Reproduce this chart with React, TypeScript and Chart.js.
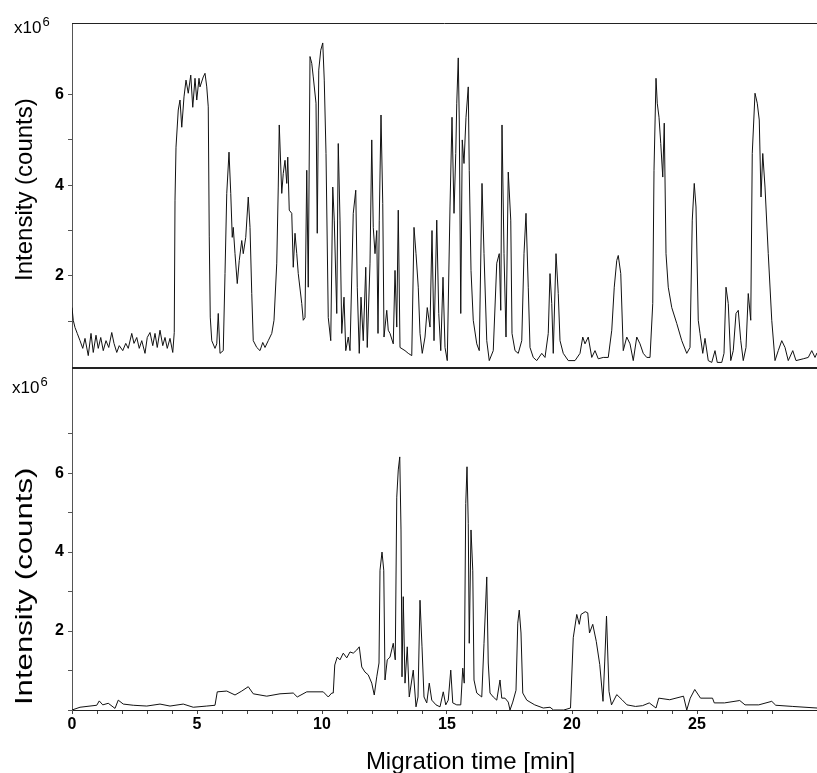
import React, { useEffect, useRef } from 'react';
import { Chart, registerables } from 'chart.js';
Chart.register(...registerables);

// Upper electropherogram (migration time in min, intensity in 10^6 counts)
const topTime = [
  0.0, 0.05, 0.12, 0.21, 0.32, 0.43, 0.52, 0.65, 0.76, 0.85, 0.96, 1.05, 1.15, 1.25, 1.36, 1.47, 1.59, 1.68, 1.79, 1.89,
  2.03, 2.15, 2.25, 2.39, 2.48, 2.59, 2.69, 2.79, 2.92, 3.01, 3.12, 3.23, 3.32, 3.41, 3.52, 3.63, 3.72, 3.81, 3.92, 4.03,
  4.09, 4.12, 4.16, 4.25, 4.32, 4.39, 4.48, 4.56, 4.65, 4.75, 4.83, 4.92, 4.99, 5.08, 5.12, 5.25, 5.32, 5.39, 5.45, 5.49,
  5.53, 5.59, 5.72, 5.79, 5.85, 5.92, 6.05, 6.12, 6.19, 6.28, 6.35, 6.41, 6.45, 6.52, 6.61, 6.69, 6.79, 6.85, 6.95, 7.05,
  7.12, 7.19, 7.25, 7.39, 7.52, 7.63, 7.72, 7.85, 7.99, 8.08, 8.19, 8.25, 8.29, 8.39, 8.45, 8.52, 8.59, 8.63, 8.69, 8.79,
  8.85, 8.92, 8.99, 9.05, 9.19, 9.25, 9.32, 9.39, 9.45, 9.52, 9.59, 9.65, 9.76, 9.81, 9.87, 9.95, 10.03, 10.09, 10.16, 10.25,
  10.35, 10.43, 10.49, 10.59, 10.65, 10.72, 10.79, 10.88, 10.95, 11.05, 11.12, 11.25, 11.35, 11.41, 11.49, 11.56, 11.65, 11.75, 11.81, 11.92,
  11.99, 12.05, 12.12, 12.19, 12.24, 12.29, 12.36, 12.43, 12.48, 12.59, 12.65, 12.72, 12.85, 12.92, 12.99, 13.05, 13.12, 13.32, 13.45, 13.59,
  13.68, 13.76, 13.85, 13.92, 14.01, 14.12, 14.21, 14.32, 14.4, 14.48, 14.59, 14.67, 14.75, 14.84, 14.92, 15.01, 15.12, 15.2, 15.28, 15.35,
  15.39, 15.45, 15.49, 15.55, 15.61, 15.68, 15.76, 15.85, 15.89, 15.96, 16.05, 16.19, 16.29, 16.4, 16.48, 16.59, 16.69, 16.85, 16.99, 17.09,
  17.15, 17.2, 17.28, 17.36, 17.45, 17.55, 17.6, 17.72, 17.85, 17.99, 18.08, 18.16, 18.25, 18.32, 18.45, 18.59, 18.79, 18.92, 19.05, 19.12,
  19.19, 19.25, 19.36, 19.45, 19.52, 19.65, 19.85, 20.12, 20.32, 20.43, 20.52, 20.65, 20.79, 20.92, 21.05, 21.25, 21.45, 21.59, 21.69, 21.79,
  21.85, 21.95, 22.05, 22.19, 22.32, 22.45, 22.59, 22.72, 22.85, 22.99, 23.12, 23.23, 23.28, 23.36, 23.41, 23.48, 23.55, 23.63, 23.69, 23.76,
  23.85, 23.99, 24.19, 24.39, 24.59, 24.72, 24.81, 24.89, 24.96, 25.05, 25.12, 25.23, 25.32, 25.45, 25.59, 25.72, 25.81, 25.99, 26.08, 26.16,
  26.25, 26.35, 26.45, 26.56, 26.65, 26.75, 26.85, 26.96, 27.05, 27.15, 27.21, 27.32, 27.41, 27.49, 27.56, 27.63, 27.72, 27.85, 27.99, 28.12,
  28.25, 28.39, 28.52, 28.65, 28.83, 28.96, 29.25, 29.45, 29.59, 29.72, 29.8,
];
const topIntensity = [
  1.3, 1.02, 0.86, 0.73, 0.57, 0.4, 0.62, 0.24, 0.73, 0.31, 0.69, 0.4, 0.64, 0.35, 0.57, 0.42, 0.75, 0.51, 0.31, 0.46,
  0.35, 0.51, 0.4, 0.73, 0.51, 0.64, 0.4, 0.57, 0.29, 0.64, 0.75, 0.46, 0.73, 0.42, 0.8, 0.46, 0.64, 0.4, 0.62, 0.31,
  0.75, 3.67, 4.84, 5.66, 5.88, 5.28, 5.95, 6.32, 6.03, 6.43, 5.72, 6.36, 5.88, 6.36, 6.17, 6.39, 6.47, 6.17, 5.73, 2.86,
  1.09, 0.57, 0.4, 0.5, 1.17, 0.29, 0.35, 2.05, 3.82, 4.73, 3.82, 2.85, 3.07, 2.49, 1.83, 2.34, 2.78, 2.49, 2.85, 3.74,
  3.07, 1.61, 0.57, 0.42, 0.35, 0.53, 0.42, 0.57, 0.73, 1.02, 2.28, 3.96, 5.33, 3.82, 4.26, 4.55, 4.04, 4.62, 3.45, 3.38,
  2.19, 2.94, 2.49, 2.05, 1.39, 1.02, 1.08, 4.33, 1.75, 6.84, 6.69, 6.39, 5.81, 2.94, 6.54, 6.98, 7.14, 6.32, 4.7, 1.08,
  0.57, 3.96, 3.23, 1.17, 4.92, 3.23, 0.73, 1.53, 0.35, 0.65, 0.35, 3.38, 3.89, 1.75, 0.29, 1.53, 0.57, 2.19, 0.42, 2.28,
  5.0, 3.07, 2.49, 3.0, 0.73, 3.23, 5.55, 3.6, 0.65, 1.24, 0.8, 0.73, 0.5, 2.12, 0.87, 3.45, 0.42, 0.35, 0.29, 0.24,
  3.07, 2.49, 1.75, 0.73, 0.29, 0.65, 1.3, 0.87, 3.0, 0.57, 3.23, 1.17, 0.35, 1.97, 0.42, 0.13, 3.52, 5.5, 3.38, 4.7,
  5.81, 6.81, 5.44, 1.17, 5.0, 4.48, 5.5, 6.17, 4.33, 2.12, 1.02, 0.5, 0.35, 4.04, 2.49, 0.57, 0.13, 0.35, 2.28, 2.49,
  1.24, 5.33, 2.49, 0.65, 4.29, 3.23, 0.73, 0.35, 0.29, 0.57, 2.49, 3.38, 1.75, 0.42, 0.2, 0.13, 0.29, 0.2, 0.73, 2.05,
  1.39, 0.29, 2.49, 1.61, 0.57, 0.29, 0.13, 0.13, 0.29, 0.65, 0.5, 0.65, 0.2, 0.35, 0.17, 0.2, 0.2, 0.8, 1.75, 2.34,
  2.45, 2.05, 0.35, 0.65, 0.5, 0.13, 0.65, 0.5, 0.29, 0.2, 0.2, 1.39, 4.33, 6.36, 5.81, 5.5, 4.92, 4.18, 5.37, 2.49,
  1.75, 1.3, 0.95, 0.57, 0.29, 0.42, 3.23, 4.04, 3.52, 1.02, 0.73, 0.29, 0.62, 0.13, 0.09, 0.35, 0.09, 0.09, 0.29, 1.75,
  1.39, 0.13, 0.35, 1.17, 1.24, 0.57, 0.13, 0.42, 1.61, 1.02, 4.7, 6.03, 5.81, 5.44, 3.74, 4.7, 3.96, 2.49, 1.02, 0.13,
  0.35, 0.57, 0.42, 0.13, 0.35, 0.13, 0.17, 0.2, 0.35, 0.2, 0.3,
];

// Lower electropherogram
const bottomTime = [
  0.0, 0.32, 0.72, 0.99, 1.09, 1.23, 1.45, 1.72, 1.85, 2.05, 2.45, 2.99, 3.52, 3.92, 4.45, 4.85, 5.39, 5.72, 5.81, 6.19,
  6.52, 6.79, 7.05, 7.25, 7.79, 8.32, 8.85, 9.01, 9.39, 10.05, 10.25, 10.39, 10.45, 10.51, 10.61, 10.72, 10.85, 10.99, 11.12, 11.25,
  11.39, 11.49, 11.59, 11.72, 11.85, 11.99, 12.09, 12.19, 12.28, 12.32, 12.4, 12.47, 12.52, 12.61, 12.72, 12.85, 12.93, 12.99, 13.05, 13.11,
  13.16, 13.2, 13.25, 13.32, 13.41, 13.49, 13.65, 13.76, 13.84, 13.92, 14.0, 14.08, 14.19, 14.29, 14.39, 14.56, 14.72, 14.85, 14.95, 15.05,
  15.15, 15.23, 15.39, 15.55, 15.63, 15.69, 15.75, 15.8, 15.85, 15.89, 15.96, 16.03, 16.08, 16.19, 16.39, 16.48, 16.59, 16.65, 16.72, 16.85,
  16.99, 17.12, 17.19, 17.32, 17.45, 17.52, 17.63, 17.76, 17.83, 17.89, 17.96, 18.03, 18.19, 18.32, 18.51, 18.85, 19.12, 19.26, 19.67, 19.94,
  20.05, 20.19, 20.29, 20.36, 20.53, 20.63, 20.7, 20.83, 20.97, 21.11, 21.24, 21.31, 21.38, 21.48, 21.58, 21.79, 22.0, 22.2, 22.54, 22.82,
  23.09, 23.36, 23.47, 23.91, 24.46, 24.59, 24.73, 24.91, 25.14, 25.62, 25.69, 26.1, 26.71, 26.92, 27.47, 27.99, 28.15, 28.83, 29.8,
];
const bottomIntensity = [
  0.0, 0.07, 0.1, 0.12, 0.23, 0.13, 0.17, 0.04, 0.25, 0.15, 0.12, 0.1, 0.15, 0.1, 0.15, 0.07, 0.1, 0.12, 0.46, 0.48,
  0.38, 0.48, 0.59, 0.41, 0.35, 0.41, 0.43, 0.33, 0.46, 0.46, 0.33, 0.43, 0.43, 1.14, 1.34, 1.27, 1.44, 1.32, 1.47, 1.44,
  1.52, 1.6, 1.09, 0.96, 0.89, 0.68, 0.38, 0.84, 1.19, 3.54, 4.0, 3.54, 0.76, 1.27, 1.34, 1.69, 1.27, 5.39, 6.08, 6.41,
  4.56, 0.84, 2.87, 0.68, 1.6, 0.33, 1.01, 0.08, 0.33, 2.78, 1.6, 0.33, 0.18, 0.68, 0.25, 0.13, 0.08, 0.46, 0.13, 0.25,
  1.01, 0.18, 0.13, 0.13, 1.06, 0.68, 5.23, 6.16, 4.73, 1.69, 4.56, 3.54, 0.76, 0.43, 0.33, 1.69, 3.37, 1.19, 0.43, 0.33,
  0.25, 0.76, 0.3, 0.3, 0.2, 0.0, 0.2, 0.5, 2.2, 2.53, 1.95, 0.43, 0.25, 0.2, 0.13, 0.05, 0.07, 0.0, 0.0, 0.05,
  1.83, 2.42, 2.17, 2.42, 2.49, 2.46, 1.95, 2.17, 1.74, 1.15, 0.22, 1.24, 2.38, 0.47, 0.13, 0.39, 0.26, 0.13, 0.09, 0.11,
  0.18, 0.05, 0.3, 0.26, 0.35, 0.0, 0.3, 0.52, 0.3, 0.3, 0.18, 0.18, 0.24, 0.13, 0.13, 0.22, 0.12, 0.09, 0.05,
];

const xTickLabels = [0, 5, 10, 15, 20, 25];
const yTickLabels = [2, 4, 6];
const xMin = 0;
const xMax = 29.8;
const topMax = 7.58;
const bottomMax = 8.7;

const FONT = '"Liberation Sans", Arial, Helvetica, sans-serif';

export default function App() {
  const ref = useRef<HTMLCanvasElement>(null);

  useEffect(() => {
    const canvas = ref.current;
    if (!canvas) return;

    const drawExponent = (ctx: CanvasRenderingContext2D, x: number, baseline: number) => {
      ctx.font = `17px ${FONT}`;
      ctx.textAlign = 'left';
      ctx.textBaseline = 'alphabetic';
      ctx.fillText('x10', x, baseline);
      const w = ctx.measureText('x10').width;
      ctx.font = `13px ${FONT}`;
      ctx.fillText('6', x + w + 1, baseline - 7);
    };

    const overlay = {
      id: 'overlay',
      afterDraw(chart: any) {
        const { ctx, chartArea } = chart;
        const yT = chart.scales.yTop;
        const yB = chart.scales.yBot;
        ctx.save();
        // top frame line
        ctx.strokeStyle = '#222';
        ctx.lineWidth = 1;
        ctx.beginPath();
        ctx.moveTo(chartArea.left, Math.round(yT.top) + 0.5);
        ctx.lineTo(chartArea.right, Math.round(yT.top) + 0.5);
        ctx.stroke();
        // separator between panels
        ctx.lineWidth = 2;
        ctx.beginPath();
        ctx.moveTo(chartArea.left, Math.round(yT.bottom) + 1);
        ctx.lineTo(chartArea.right, Math.round(yT.bottom) + 1);
        ctx.stroke();

        ctx.fillStyle = '#000';
        // exponent labels
        drawExponent(ctx, chartArea.left - 58, yT.top + 10);
        drawExponent(ctx, chartArea.left - 60, yB.getPixelForValue(8) - 1);

        // y titles
        ctx.font = `24px ${FONT}`;
        ctx.textAlign = 'center';
        ctx.textBaseline = 'middle';
        ctx.save();
        ctx.translate(chartArea.left - 47, yT.top + (yT.bottom - yT.top) * 0.485);
        ctx.rotate(-Math.PI / 2);
        ctx.fillText('Intensity (counts)', 0, 0);
        ctx.restore();
        ctx.save();
        ctx.translate(chartArea.left - 47, yB.top + (yB.bottom - yB.top) * 0.64);
        ctx.rotate(-Math.PI / 2);
        ctx.scale(1.3, 1);
        ctx.fillText('Intensity (counts)', 0, 0);
        ctx.restore();

        // x title
        ctx.textBaseline = 'alphabetic';
        ctx.fillText('Migration time [min]', chartArea.left + (chartArea.right - chartArea.left) * 0.535, chartArea.bottom + 59);
        ctx.restore();
      },
    };

    const yCommon = (max: number, keepZero: boolean) => ({
      type: 'linear' as const,
      position: 'left' as const,
      stack: 'panels',
      stackWeight: 1,
      min: 0,
      max,
      afterFit: (s: any) => {
        s.width = 72;
      },
      afterBuildTicks: (s: any) => {
        s.ticks = s.ticks.filter((t: any) => Number.isInteger(t.value) && (keepZero || t.value > 0));
      },
      ticks: {
        stepSize: 1,
        autoSkip: false,
        padding: 4,
        color: '#000',
        font: { family: FONT, size: 16, weight: 'bold' },
        callback: (v: any) => (yTickLabels.includes(Number(v)) ? String(v) : ''),
      },
      grid: { display: true, drawOnChartArea: false, drawTicks: true, tickLength: 4, color: '#555' },
      border: { display: true, color: '#555', width: 1 },
    });

    const chart = new Chart(canvas, {
      type: 'line',
      data: {
        datasets: [
          {
            data: topTime.map((t, i) => ({ x: t, y: topIntensity[i] })),
            yAxisID: 'yTop',
            borderColor: '#111',
            borderWidth: 1,
            pointRadius: 0,
            tension: 0,
            fill: false,
          },
          {
            data: bottomTime.map((t, i) => ({ x: t, y: bottomIntensity[i] })),
            yAxisID: 'yBot',
            borderColor: '#111',
            borderWidth: 1,
            pointRadius: 0,
            tension: 0,
            fill: false,
          },
        ],
      },
      options: {
        animation: false,
        responsive: false,
        devicePixelRatio: 1,
        layout: { padding: { top: 23, left: 0, right: 0, bottom: 0 } },
        plugins: { legend: { display: false }, tooltip: { enabled: false } },
        scales: {
          x: {
            type: 'linear',
            position: 'bottom',
            min: xMin,
            max: xMax,
            afterFit: (s: any) => {
              s.height = 63;
            },
            afterBuildTicks: (s: any) => {
              s.ticks = s.ticks.filter((t: any) => Number.isInteger(t.value));
            },
            ticks: {
              stepSize: 1,
              autoSkip: false,
              maxRotation: 0,
              padding: 1,
              color: '#000',
              font: { family: FONT, size: 16, weight: 'bold' },
              callback: (v: any) => (xTickLabels.includes(Number(v)) ? String(v) : ''),
            },
            grid: { display: true, drawOnChartArea: false, drawTicks: true, tickLength: 4, color: '#444' },
            border: { display: true, color: '#222', width: 1 },
          },
          yBot: yCommon(bottomMax, true) as any,
          yTop: yCommon(topMax, false) as any,
        },
      } as any,
      plugins: [overlay],
    });

    return () => chart.destroy();
  }, []);

  return (
    <div style={{ position: 'absolute', left: 0, top: 0, width: 817, height: 773, background: '#fff' }}>
      <canvas ref={ref} width={817} height={773} style={{ width: 817, height: 773, display: 'block' }} />
    </div>
  );
}
